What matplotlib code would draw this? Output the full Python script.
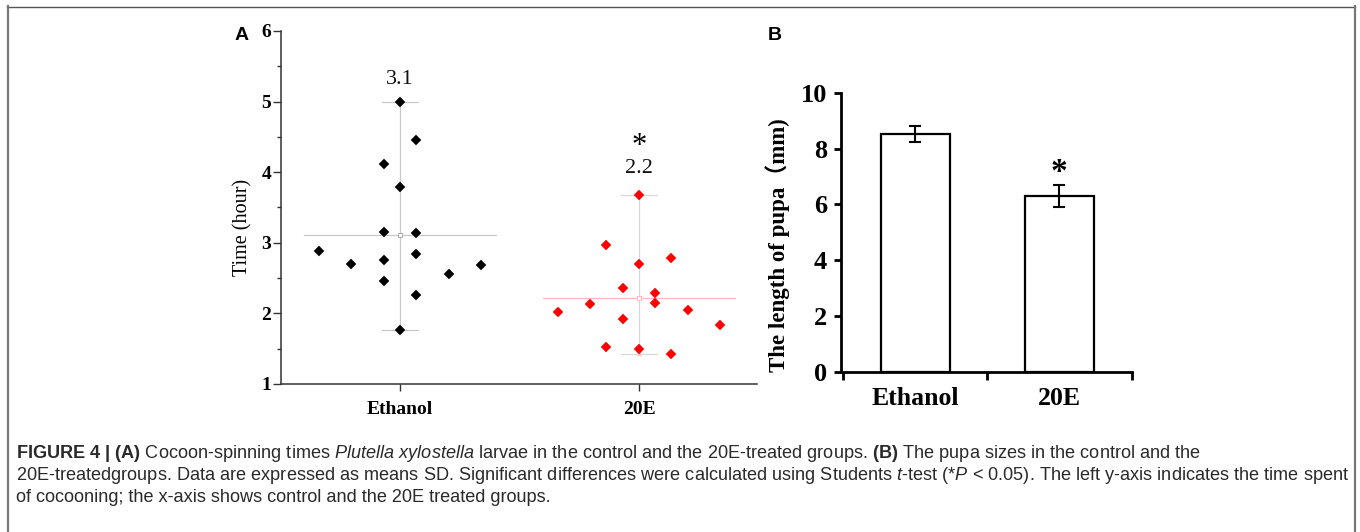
import matplotlib
matplotlib.use("Agg")
import matplotlib.pyplot as plt
import numpy as np
from matplotlib.lines import Line2D

# ---------------- data ----------------
groups = ["Ethanol", "20E"]
ethanol_times = [5.00, 4.46, 4.12, 3.79, 3.15, 3.14, 2.89, 2.84, 2.70, 2.75, 2.68, 2.56, 2.46, 2.26, 1.76]
e20_times = [3.68, 2.97, 2.70, 2.79, 2.36, 2.29, 2.15, 2.13, 2.05, 2.02, 1.92, 1.83, 1.53, 1.50, 1.43]
pupa_means = [8.52, 6.30]
pupa_sd = [0.30, 0.38]
yticks_A = [1, 2, 3, 4, 5, 6]
yticks_B = [0, 2, 4, 6, 8, 10]

# layout (jitter steps of the scatter, not data)
ethanol_jit = [0, 1, -1, 0, -1, 1, -5, 1, -3, -1, 5, 3, -1, 1, 0]
e20_jit = [0, -2, 0, 2, -1, 1, 1, -3, 3, -5, -1, 5, -2, 0, 2]
STEP = 0.068

W, H = 1360, 532
plt.rcParams['mathtext.fontset'] = 'custom'
plt.rcParams['mathtext.rm'] = 'Liberation Sans'
plt.rcParams['mathtext.it'] = 'Liberation Sans:italic'
plt.rcParams['mathtext.bf'] = 'Liberation Sans:bold'

fig = plt.figure(figsize=(W / 100, H / 100), dpi=100)
SERIF = 'Liberation Serif'

def fx(px):
    return px / W

def fy(py):
    return 1 - py / H

# ---------------- Panel A ----------------
axA = fig.add_axes([fx(281), fy(384), (757 - 281) / W, (384 - 31) / H])
axA.set_xlim(-0.498, 1.494)
axA.set_ylim(1, 6)
for s in ["top", "right"]:
    axA.spines[s].set_visible(False)
for s in ["left", "bottom"]:
    axA.spines[s].set_color("#333333")
    axA.spines[s].set_linewidth(1.1)

series = [(ethanol_times, ethanol_jit, "black", "#c8c8c8", "#c8c8c8"),
          (e20_times, e20_jit, "#ff0000", "#ffb8b8", "#d8d8d8")]
for i, (vals, jit, col, meancol, rangecol) in enumerate(series):
    v = np.array(vals)
    mean = v.mean()
    lo, hi = v.min(), v.max()
    axA.plot([i, i], [lo, hi], color=rangecol, lw=0.9, zorder=1)
    axA.plot([i - 0.075, i + 0.075], [hi, hi], color=rangecol, lw=0.9, zorder=1)
    axA.plot([i - 0.075, i + 0.075], [lo, lo], color=rangecol, lw=0.9, zorder=1)
    axA.plot([i - 0.40, i + 0.40], [mean, mean], color=meancol, lw=0.9, zorder=1)
    axA.plot([i], [mean], marker="s", ms=3, mfc="white", mec=meancol if i else "#aaaaaa",
             mew=0.7, zorder=2)
    axA.plot([i, i], [lo, hi], ls="none", marker="x", ms=3.5, mec=meancol, mew=0.7, zorder=2)
    xs = i + np.array(jit) * STEP
    axA.plot(xs, v, ls="none", marker="D", ms=5.0, color=col, mec=col, mew=0.3, zorder=3)
    axA.text(i, hi + 0.31 if i == 0 else hi + 0.37, f"{mean:.1f}", ha="center", va="center",
             fontsize=16, family=SERIF, color="#111111")
axA.text(1, 4.36, "*", ha="center", va="center", fontsize=22, family=SERIF)

axA.set_yticks(yticks_A)
axA.set_yticks(np.arange(1.5, 6, 1.0), minor=True)
axA.tick_params(axis="y", which="major", direction="out", length=6, width=1.0,
                color="#333333", pad=1)
axA.tick_params(axis="y", which="minor", direction="out", length=3, width=1.0, color="#333333")
axA.set_yticklabels([str(t) for t in yticks_A], fontsize=14, fontweight="bold", family=SERIF)
axA.set_xticks([0, 1])
axA.set_xticklabels(groups, fontsize=14, fontweight="bold", family=SERIF)
axA.tick_params(axis="x", direction="out", length=5, width=1.0, color="#333333", pad=7)
fig.text(fx(243), fy(227), "Time (hour)", rotation=90, ha="center", va="center",
         fontsize=14.5, family=SERIF)
fig.text(fx(242), fy(36), "A", ha="center", va="center", fontsize=14, fontweight="bold",
         family="Liberation Sans")

# ---------------- Panel B ----------------
axB = fig.add_axes([fx(841), fy(371.7), (1131.5 - 841) / W, (371.7 - 92.7) / H])
axB.set_xlim(-0.515, 1.5)
axB.set_ylim(0, 10)
for s in ["top", "right"]:
    axB.spines[s].set_visible(False)
for s in ["left", "bottom"]:
    axB.spines[s].set_linewidth(2.0)
axB.bar(range(len(groups)), pupa_means, width=0.48, color="white", edgecolor="black",
        linewidth=1.6, zorder=2)
axB.errorbar(range(len(groups)), pupa_means, yerr=pupa_sd, fmt="none", ecolor="black",
             elinewidth=1.5, capsize=4.5, capthick=1.5, zorder=3)
axB.text(1, pupa_means[1] + pupa_sd[1] + 0.45, "*", ha="center", va="center", fontsize=24,
         fontweight="bold", family=SERIF)
axB.set_yticks(yticks_B)
axB.set_yticklabels([str(t) for t in yticks_B], fontsize=19, fontweight="bold", family=SERIF)
axB.tick_params(axis="y", direction="out", length=5, width=2.0, pad=5)
axB.set_xticks([-0.5, 0.5, 1.5])
axB.set_xticklabels([])
axB.tick_params(axis="x", which="major", direction="out", length=6, width=2.0)
axB.set_xticks([0, 1], minor=True)
axB.set_xticklabels(groups, minor=True, fontsize=18.5, fontweight="bold", family=SERIF)
axB.tick_params(axis="x", which="minor", length=0, pad=11)
fig.text(fx(778), fy(245), "The length of pupa（mm)", rotation=90, ha="center", va="center",
         fontsize=16.5, fontweight="bold", family=[SERIF, "Noto Sans CJK SC"])
fig.text(fx(775), fy(36), "B", ha="center", va="center", fontsize=14, fontweight="bold",
         family="Liberation Sans")

# ---------------- caption ----------------
cap1 = (r"$\mathbf{FIGURE\ 4\ |\ (A)}$ Cocoon-spinning times $\mathit{Plutella\ xylostella}$ "
        r"larvae in the control and the 20E-treated groups. $\mathbf{(B)}$ The pupa sizes in "
        r"the control and the")
cap2 = (r"20E-treatedgroups. Data are expressed as means SD. Significant differences were "
        r"calculated using Students $\mathit{t}$-test (*$\mathit{P}$ < 0.05). The left y-axis "
        r"indicates the time spent")
cap3 = r"of cocooning; the x-axis shows control and the 20E treated groups."
for txt, yb in [(cap1, 458), (cap2, 480), (cap3, 502)]:
    fig.text(fx(16), fy(yb), txt, ha="left", va="baseline", fontsize=13.1,
             family="Liberation Sans", color="#2a2a2a")

# ---------------- frame ----------------
fig.add_artist(Line2D([fx(7), fx(1355)], [fy(6.5), fy(6.5)], transform=fig.transFigure,
                      color="#555555", lw=1.0))
fig.add_artist(Line2D([fx(7.5), fx(7.5)], [fy(6), 0], transform=fig.transFigure,
                      color="#777777", lw=1.6))
fig.add_artist(Line2D([fx(1355), fx(1355)], [fy(6), 0], transform=fig.transFigure,
                      color="#777777", lw=1.6))

fig.savefig("out.png", dpi=100)
